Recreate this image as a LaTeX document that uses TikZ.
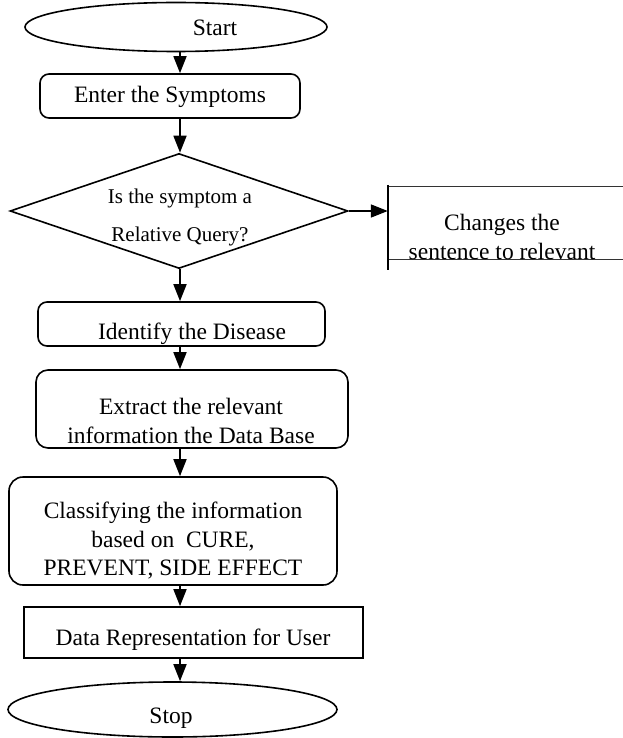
\documentclass[tikz,border=0pt]{standalone}
\usepackage{fontspec}
\setmainfont{Liberation Serif}
\usepackage{tikz}
\usetikzlibrary{shapes.geometric}
\usetikzlibrary{arrows.meta}
\tikzset{>={Triangle[length=17pt,width=13pt]}}
\tikzset{
  flowline/.style={line width=1.6pt},
  terminal/.style={draw, flowline, ellipse, inner sep=0pt},
  procbox/.style={draw, flowline, rectangle, rounded corners=9pt, inner sep=0pt},
  plainbox/.style={draw, flowline, rectangle, inner sep=0pt},
  decision/.style={draw, flowline, diamond, inner sep=0pt},
  txt/.style={inner sep=0pt, align=center, font=\fontsize{23.5}{29.5}\selectfont}
}

\begin{document}
\begin{tikzpicture}[x=1pt, y=-1pt]
      \useasboundingbox (0,0) rectangle (623,738);
      \coordinate (axis) at (180,0);

      % start
      \node[terminal, minimum width=302pt, minimum height=49pt] (start) at (176,27) {};
      \node[txt] (starttxt) at (215,28) {Start};

      % enter symptoms
      \node[procbox, minimum width=260pt, minimum height=44pt] (enter) at (170,96) {};
      \node[txt] (entertxt) at (170,97) {Enter the Symptoms};

      % decision
      \node[decision, minimum width=338pt, minimum height=115pt] (query) at (179,211) {};
      \node[txt, font=\fontsize{21}{21}\selectfont] (querytxt1) at (180,198) {Is the symptom a};
      \node[txt, font=\fontsize{21}{21}\selectfont] (querytxt2) at (180,236) {Relative Query?};

      % changes the sentence
      \node[inner sep=0pt, minimum width=235pt, minimum height=72pt] (change) at (505.5,223) {};
	  \draw[line width=1.3pt, gray!40!black] (change.north west) -- (change.north east);
	  \draw[line width=1.3pt, gray!40!black] (change.south west) -- (change.south east);
	  \draw[line width=2.4pt] ([yshift=2pt]change.north west) -- ([yshift=-11pt]change.south west);
      \node[txt] (changetxt) at (502,237) {Changes the\\sentence to relevant};

      % identify disease
      \node[procbox, minimum width=287pt, minimum height=44pt] (identify) at (181.5,324) {};
      \node[txt] (identifytxt) at (192,334) {Identify the Disease};

      % extract
      \node[procbox, rounded corners=12pt, minimum width=312pt, minimum height=78pt] (extract) at (192,409) {};
      \node[txt] (extracttxt) at (191,421) {Extract the relevant\\information the Data Base};

      % classify
      \node[procbox, rounded corners=14pt, minimum width=328pt, minimum height=108pt] (classify) at (173,531) {};
      \node[txt, font=\fontsize{23.5}{28.5}\selectfont] (classifytxt) at (173,541)
            {Classifying the information\\based on\ \ CURE,\\PREVENT, SIDE EFFECT};

      % data representation
      \node[plainbox, minimum width=339pt, minimum height=51pt] (data) at (193.5,632.5) {};
      \node[txt] (datatxt) at (193,640) {Data Representation for User};

      % stop
      \node[terminal, minimum width=329pt, minimum height=55pt] (stop) at (172.5,709.5) {};
      \node[txt] (stoptxt) at (171,718) {Stop};

      % connectors
      \draw[flowline, ->] (axis |- start.south) -- (axis |- enter.north);
      \draw[flowline, ->] (axis |- enter.south) -- (axis |- query.north);
      \draw[flowline, ->] (axis |- query.south) -- (axis |- identify.north);
      \draw[flowline, ->] (query.east) -- (query.east -| change.west);
      \draw[flowline, ->] (axis |- identify.south) -- (axis |- extract.north);
      \draw[flowline, ->] (axis |- extract.south) -- (axis |- classify.north);
      \draw[flowline, ->] (axis |- classify.south) -- (axis |- data.north);
      \draw[flowline, ->] (axis |- data.south) -- (axis |- stop.north);
\end{tikzpicture}
\end{document}
